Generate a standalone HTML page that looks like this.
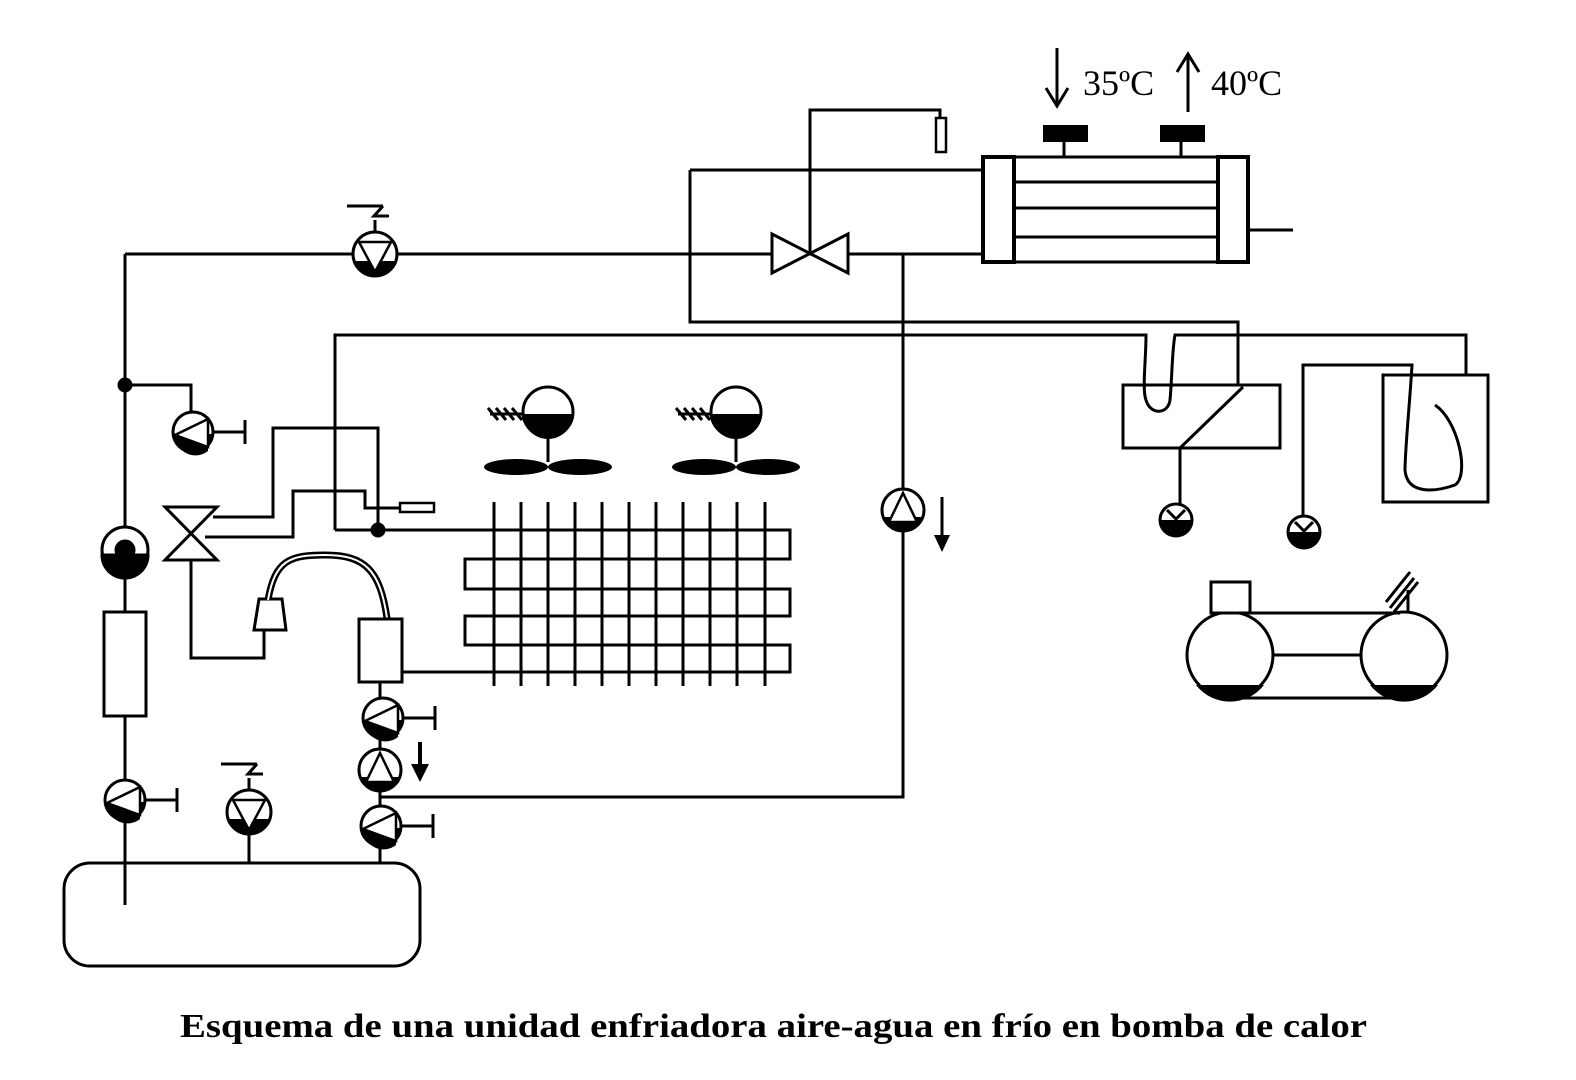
<!DOCTYPE html>
<html><head><meta charset="utf-8"><style>
html,body{margin:0;padding:0;background:#fff;}
svg{display:block;}
</style></head><body>
<svg width="1576" height="1080" viewBox="0 0 1576 1080" xmlns="http://www.w3.org/2000/svg">
<defs>
<g id="pL">
<circle r="20" fill="#fff" stroke="#000" stroke-width="3"/>
<path d="M-19.8,2 A20,20 0 0 0 19.8,2 Z" fill="#000"/>
<path d="M-18,3 L15,-13 L15,15 Z" fill="#fff" stroke="#000" stroke-width="2.5"/>
<path d="M-17,4 L15,15 L15,19 A20,20 0 0 1 -17,8 Z" fill="#000"/>
<path d="M20,0 H52 M52,-12 V12" stroke="#000" stroke-width="3" fill="none"/>
</g>
<g id="pD">
<circle r="22" fill="#fff" stroke="#000" stroke-width="3"/>
<path d="M-21,7 A22,22 0 0 0 21,7 Z" fill="#000"/>
<path d="M-16,-12 H16 L0,18 Z" fill="#fff" stroke="#000" stroke-width="2.5"/>
<path d="M0,-22 V-34 M-28,-48 H8 M8,-48 L-1,-38 H14" stroke="#000" stroke-width="3" fill="none"/>
</g>
<g id="pU">
<circle r="21" fill="#fff" stroke="#000" stroke-width="3"/>
<path d="M-20,7 A21,21 0 0 0 20,7 Z" fill="#000"/>
<path d="M-14,12 H14 L0,-17 Z" fill="#fff" stroke="#000" stroke-width="2.5"/>
</g>
<g id="sm">
<circle r="16" fill="#fff" stroke="#000" stroke-width="3"/>
<path d="M-16,0 A16,16 0 0 0 16,0 Z" fill="#000"/>
<path d="M-9,-10 L0,-1 L9,-10" stroke="#000" stroke-width="3" fill="none"/>
</g>
<g id="fan">
<circle r="25" fill="#fff" stroke="#000" stroke-width="3"/>
<path d="M-25,2 A25,25 0 0 0 25,2 Z" fill="#000"/>
<path d="M0,25 V50" stroke="#000" stroke-width="3"/>
<ellipse cx="-32" cy="55" rx="32" ry="8"/>
<ellipse cx="32" cy="55" rx="32" ry="8"/>
<path d="M-25,2 H-58 M-52,-4 L-42,8 M-44,-4 L-34,8 M-36,-4 L-26,8 M-60,-4 L-50,8" stroke="#000" stroke-width="3"/>
</g>
</defs>
<g stroke="#000" stroke-width="3" fill="none">
<path d="M125,254 V905"/>
<path d="M125,254 H982"/>
<circle cx="125" cy="385" r="6" fill="#000"/>
<path d="M125,385 H191 V412"/>
<circle cx="125" cy="550" r="23" fill="#fff"/>
<path d="M102,555 A23,23 0 0 0 148,555 Z" fill="#000"/>
<circle cx="125" cy="550" r="9" fill="#000"/>
<rect x="104" y="612" width="42" height="104" fill="#fff"/>
<rect x="64" y="863" width="356" height="103" rx="26" fill="#fff"/>
<path d="M125,863 V905"/>
<path d="M249,830 V863 M380,845 V863"/>
<rect x="983" y="157" width="265" height="105" fill="#fff"/>
<path d="M1014,157 V262 M1218,157 V262 M1014,182 H1218 M1014,208 H1218 M1014,237 H1218"/>
<rect x="983" y="157" width="31" height="105" stroke-width="4"/>
<rect x="1218" y="157" width="30" height="105" stroke-width="4"/>
<path d="M1248,230 H1293"/>
<path d="M1064,141 V157 M1181,141 V157"/>
<path d="M772,234 L772,273 L848,234 L848,273 Z" fill="#fff"/>
<path d="M810,254 V110 H940 V118"/>
<rect x="936" y="118" width="10" height="34" stroke-width="2.5" fill="#fff"/>
<path d="M690,170 H983 M690,170 V322 H1238 V385"/>
<path d="M335,530 V335 H1146 C1146,360 1142,390 1146,400 C1150,415 1168,415 1170,400 C1172,380 1172,350 1175,335 H1466 V375"/>
<path d="M903,254 V797 H380"/>
<rect x="1123" y="385" width="157" height="63"/>
<path d="M1243,387 L1180,448 V505"/>
<rect x="1383" y="375" width="105" height="127"/>
<path d="M1303,520 V365 H1412 C1410,400 1405,450 1405,470 C1407,495 1435,492 1455,485 C1470,475 1458,420 1435,405"/>
<circle cx="1230" cy="655" r="43"/>
<circle cx="1404" cy="655" r="43"/>
<path d="M1243,613 H1400 M1273,655 H1361 M1230,698 H1404"/>
<rect x="1211" y="582" width="39" height="31" fill="#fff"/>
<path d="M1408,612 V590 M1390,608 L1414,578 M1394,612 L1418,582 M1386,602 L1410,572"/>
<path d="M335,530 H465 M465,530 H790 V559 H465 V589 H790 V616 H465 V645 H790 V672 H400"/>
<path d="M494,502V686 M521,502V686 M548,502V686 M575,502V686 M602,502V686 M629,502V686 M656,502V686 M683,502V686 M710,502V686 M737,502V686 M765,502V686"/>
<circle cx="378" cy="530" r="6" fill="#000"/>
<path d="M213,517 H273 V428 H378 V530"/>
<path d="M205,537 H293 V491 H365 V508 H400"/>
<rect x="400" y="503" width="34" height="9" stroke-width="2.5" fill="#fff"/>
<path d="M165,507 H217 L165,560 H217 Z" fill="#fff"/>
<path d="M191,560 V658 H264 V630"/>
<path d="M259,599 H282 L286,630 H254 Z" fill="#fff"/>
<path d="M268,600 C275,560 290,555 325,555 C365,555 380,570 387,618" stroke-width="7"/>
<path d="M268,600 C275,560 290,555 325,555 C365,555 380,570 387,618" stroke="#fff" stroke-width="2"/>
<rect x="359" y="619" width="43" height="63" fill="#fff"/>
<path d="M380,682 V845"/>
<path d="M1057,48 V105 M1046,88 L1057,106 L1068,88"/>
<path d="M1188,112 V54 M1177,72 L1188,54 L1199,72"/>
<path d="M942,497 V540"/>
</g>
<path d="M934,535 H950 L942,552 Z"/>
<path d="M420,742 V768" stroke="#000" stroke-width="4"/>
<path d="M411,764 H429 L420,782 Z"/>
<rect x="1043" y="125" width="45" height="17"/>
<rect x="1160" y="125" width="45" height="17"/>
<use href="#pD" x="375" y="254"/>
<use href="#pD" x="249" y="812"/>
<use href="#pL" x="193" y="432"/>
<use href="#pL" x="125" y="800"/>
<use href="#pL" x="383" y="718"/>
<use href="#pL" x="381" y="826"/>
<use href="#pU" x="380" y="770"/>
<use href="#pU" x="903" y="510"/>
<use href="#sm" x="1176" y="520"/>
<use href="#sm" x="1304" y="532"/>
<path d="M1196,685 A43,43 0 0 0 1264,685 Z"/>
<path d="M1370,685 A43,43 0 0 0 1438,685 Z"/>
<use href="#fan" x="548" y="412"/>
<use href="#fan" x="736" y="412"/>
<text x="1083" y="95" font-family="Liberation Serif, serif" font-size="36">35ºC</text>
<text x="1211" y="95" font-family="Liberation Serif, serif" font-size="36">40ºC</text>
<text x="180" y="1037" textLength="1187" lengthAdjust="spacingAndGlyphs" font-family="Liberation Serif, serif" font-weight="bold" font-size="34">Esquema de una unidad enfriadora aire-agua en frío en bomba de calor</text>
</svg>
</body></html>
